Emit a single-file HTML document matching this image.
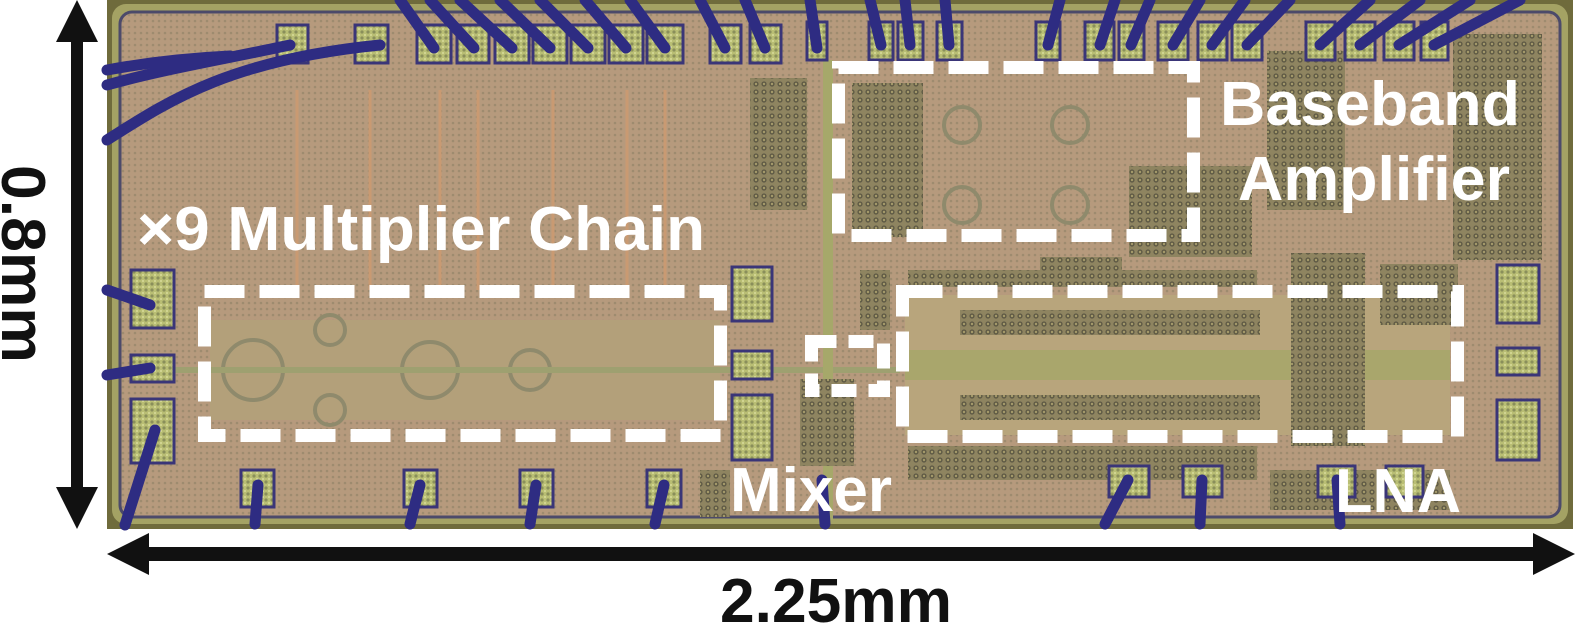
<!DOCTYPE html>
<html><head><meta charset="utf-8"><style>
html,body{margin:0;padding:0;background:#fff;width:1575px;height:626px;overflow:hidden}
svg{display:block}
text{font-family:"Liberation Sans",Arial,sans-serif;font-weight:bold}
</style></head><body>
<svg width="1575" height="626" viewBox="0 0 1575 626" xmlns="http://www.w3.org/2000/svg">
<defs>
<pattern id="grid" width="6" height="6" patternUnits="userSpaceOnUse">
<rect width="6" height="6" fill="#b69a7d"/><circle cx="3" cy="3" r="1.3" fill="#9e8b6f"/>
</pattern>
<pattern id="dark" width="8" height="8" patternUnits="userSpaceOnUse">
<rect width="8" height="8" fill="#8e8460"/><circle cx="4" cy="4" r="2.6" fill="#5f5a45"/><circle cx="4" cy="4" r="1.2" fill="#a49a6a"/>
</pattern>
<pattern id="pad" width="6" height="6" patternUnits="userSpaceOnUse">
<rect width="6" height="6" fill="#b9be74"/><circle cx="2" cy="2" r="1.6" fill="#8a8f5a"/><circle cx="5" cy="5" r="1" fill="#d8dc9a"/>
</pattern>
</defs>
<rect x="107" y="0" width="1466" height="529" fill="#6f6b3c"/>
<rect x="112" y="4" width="1456" height="520" rx="14" fill="#a4a264"/>
<rect x="120" y="12" width="1440" height="505" rx="12" fill="url(#grid)" stroke="#4c4a6a" stroke-width="3"/>
<rect x="905" y="295" width="545" height="140" fill="#b8a57c"/>
<rect x="905" y="350" width="545" height="30" fill="#a9a66c"/>
<rect x="210" y="320" width="510" height="100" fill="#b3a07a"/>
<g stroke="#c99a72" stroke-width="3">
<line x1="297" y1="90" x2="297" y2="290"/><line x1="370" y1="90" x2="370" y2="290"/>
<line x1="440" y1="90" x2="440" y2="290"/><line x1="478" y1="90" x2="478" y2="290"/>
<line x1="553" y1="90" x2="553" y2="290"/><line x1="627" y1="90" x2="627" y2="290"/>
<line x1="665" y1="90" x2="665" y2="290"/>
</g>
<g fill="none" stroke="#8f8a6c" stroke-width="4">
<circle cx="253" cy="370" r="30"/><circle cx="330" cy="330" r="15"/><circle cx="330" cy="410" r="15"/>
<circle cx="430" cy="370" r="28"/><circle cx="530" cy="370" r="20"/>
<circle cx="962" cy="125" r="18"/><circle cx="1070" cy="125" r="18"/><circle cx="962" cy="205" r="18"/><circle cx="1070" cy="205" r="18"/>
</g>
<line x1="170" y1="370" x2="900" y2="370" stroke="#9ea070" stroke-width="6"/>
<line x1="828" y1="60" x2="828" y2="520" stroke="#a6a86a" stroke-width="10"/>
<g fill="url(#dark)">
<rect x="750" y="78" width="57" height="132"/>
<rect x="852" y="83" width="71" height="154"/>
<rect x="1129" y="166" width="123" height="91"/>
<rect x="1267" y="51" width="78" height="159"/>
<rect x="1453" y="34" width="89" height="226"/>
<rect x="1040" y="257" width="82" height="25"/>
<rect x="908" y="270" width="349" height="17"/>
<rect x="908" y="446" width="349" height="34"/>
<rect x="1291" y="253" width="74" height="193"/>
<rect x="1380" y="264" width="78" height="61"/>
<rect x="800" y="379" width="54" height="87"/>
<rect x="700" y="470" width="30" height="47"/>
<rect x="1270" y="470" width="180" height="40"/>
<rect x="860" y="270" width="30" height="60"/>
<rect x="960" y="310" width="300" height="25"/>
<rect x="960" y="395" width="300" height="25"/>
</g>
<g fill="url(#pad)" stroke="#3a3578" stroke-width="3">
<rect x="277" y="25" width="31" height="38"/><rect x="355" y="25" width="33" height="38"/>
<rect x="417" y="25" width="34" height="38"/><rect x="457" y="25" width="32" height="38"/>
<rect x="495" y="25" width="34" height="38"/><rect x="533" y="25" width="34" height="38"/>
<rect x="571" y="25" width="34" height="38"/><rect x="609" y="25" width="34" height="38"/>
<rect x="647" y="25" width="36" height="38"/><rect x="710" y="25" width="31" height="38"/>
<rect x="750" y="25" width="31" height="38"/>
<rect x="807" y="22" width="20" height="38"/><rect x="869" y="22" width="24" height="38"/>
<rect x="898" y="22" width="25" height="38"/><rect x="937" y="22" width="25" height="38"/>
<rect x="1036" y="22" width="24" height="38"/><rect x="1085" y="22" width="29" height="38"/>
<rect x="1119" y="22" width="25" height="38"/><rect x="1158" y="22" width="30" height="38"/>
<rect x="1198" y="22" width="29" height="38"/><rect x="1232" y="22" width="30" height="38"/>
<rect x="1306" y="22" width="29" height="38"/><rect x="1345" y="22" width="30" height="38"/>
<rect x="1384" y="22" width="30" height="38"/><rect x="1421" y="22" width="27" height="38"/>
<rect x="131" y="270" width="43" height="58"/><rect x="131" y="355" width="43" height="27"/><rect x="131" y="399" width="43" height="64"/>
<rect x="732" y="267" width="40" height="54"/><rect x="732" y="351" width="40" height="28"/><rect x="732" y="395" width="40" height="65"/>
<rect x="1497" y="265" width="42" height="58"/><rect x="1497" y="348" width="42" height="27"/><rect x="1497" y="400" width="42" height="60"/>
<rect x="241" y="470" width="33" height="37"/><rect x="404" y="470" width="33" height="37"/>
<rect x="520" y="470" width="33" height="37"/><rect x="647" y="470" width="34" height="37"/>
<rect x="1109" y="466" width="40" height="31"/><rect x="1183" y="466" width="39" height="31"/>
<rect x="1318" y="466" width="37" height="31"/><rect x="1386" y="466" width="37" height="31"/>
</g>
<g stroke="#2e2c82" stroke-width="11" stroke-linecap="round" fill="none">
<path d="M107 140 C170 100 230 60 380 45"/>
<path d="M107 85 C160 70 220 60 290 45"/>
<path d="M107 70 C150 62 190 58 230 56"/>
<line x1="400" y1="0" x2="434" y2="48"/><line x1="430" y1="0" x2="474" y2="48"/>
<line x1="460" y1="0" x2="512" y2="48"/><line x1="500" y1="0" x2="550" y2="48"/>
<line x1="540" y1="0" x2="588" y2="48"/><line x1="585" y1="0" x2="626" y2="48"/>
<line x1="630" y1="0" x2="665" y2="48"/><line x1="700" y1="0" x2="725" y2="48"/>
<line x1="745" y1="0" x2="765" y2="48"/><line x1="810" y1="0" x2="817" y2="48"/>
<line x1="870" y1="0" x2="881" y2="45"/><line x1="905" y1="0" x2="910" y2="45"/>
<line x1="945" y1="0" x2="949" y2="45"/><line x1="1060" y1="0" x2="1048" y2="45"/>
<line x1="1115" y1="0" x2="1100" y2="45"/><line x1="1150" y1="0" x2="1131" y2="45"/>
<line x1="1200" y1="0" x2="1173" y2="45"/><line x1="1245" y1="0" x2="1212" y2="45"/>
<line x1="1290" y1="0" x2="1247" y2="45"/><line x1="1370" y1="0" x2="1320" y2="45"/>
<line x1="1420" y1="0" x2="1360" y2="45"/><line x1="1470" y1="0" x2="1399" y2="45"/>
<line x1="1520" y1="0" x2="1434" y2="45"/>
<line x1="107" y1="290" x2="150" y2="305"/><line x1="107" y1="375" x2="150" y2="368"/>
<line x1="125" y1="525" x2="155" y2="430"/>
<line x1="255" y1="524" x2="258" y2="485"/><line x1="410" y1="524" x2="420" y2="485"/>
<line x1="530" y1="524" x2="536" y2="485"/><line x1="655" y1="524" x2="664" y2="485"/>
<line x1="825" y1="524" x2="822" y2="480"/><line x1="1105" y1="524" x2="1128" y2="480"/>
<line x1="1200" y1="524" x2="1202" y2="480"/><line x1="1340" y1="524" x2="1337" y2="480"/>
</g>
<g fill="none" stroke="#fff" stroke-width="13" stroke-dasharray="40 15">
<rect x="204.5" y="291.5" width="516" height="144"/>
<rect x="838.5" y="67.5" width="355" height="168"/>
<rect x="902.5" y="291.5" width="555" height="145"/>
<rect x="811.5" y="341.5" width="72" height="49" stroke-dasharray="25 12"/>
</g>
<g fill="#fff" font-size="62">
<text x="137" y="250" textLength="568" lengthAdjust="spacingAndGlyphs">×9 Multiplier Chain</text>
<text x="1220" y="125" textLength="300" lengthAdjust="spacingAndGlyphs">Baseband</text>
<text x="1238" y="200" textLength="272" lengthAdjust="spacingAndGlyphs">Amplifier</text>
<text x="730" y="511" textLength="162" lengthAdjust="spacingAndGlyphs">Mixer</text>
<text x="1335" y="512" textLength="126" lengthAdjust="spacingAndGlyphs">LNA</text>
</g>
<g fill="#111">
<rect x="71" y="38" width="12" height="452"/>
<polygon points="77,0 56,42 98,42"/>
<polygon points="77,529 56,487 98,487"/>
<rect x="145" y="547" width="1392" height="14"/>
<polygon points="107,554 149,533 149,575"/>
<polygon points="1575,554 1533,533 1533,575"/>
</g>
<text x="0" y="0" font-size="62" fill="#111" transform="translate(2,165) rotate(90)" textLength="198" lengthAdjust="spacingAndGlyphs">0.8mm</text>
<text x="720" y="622" font-size="62" fill="#111" textLength="232" lengthAdjust="spacingAndGlyphs">2.25mm</text>
</svg>
</body></html>
